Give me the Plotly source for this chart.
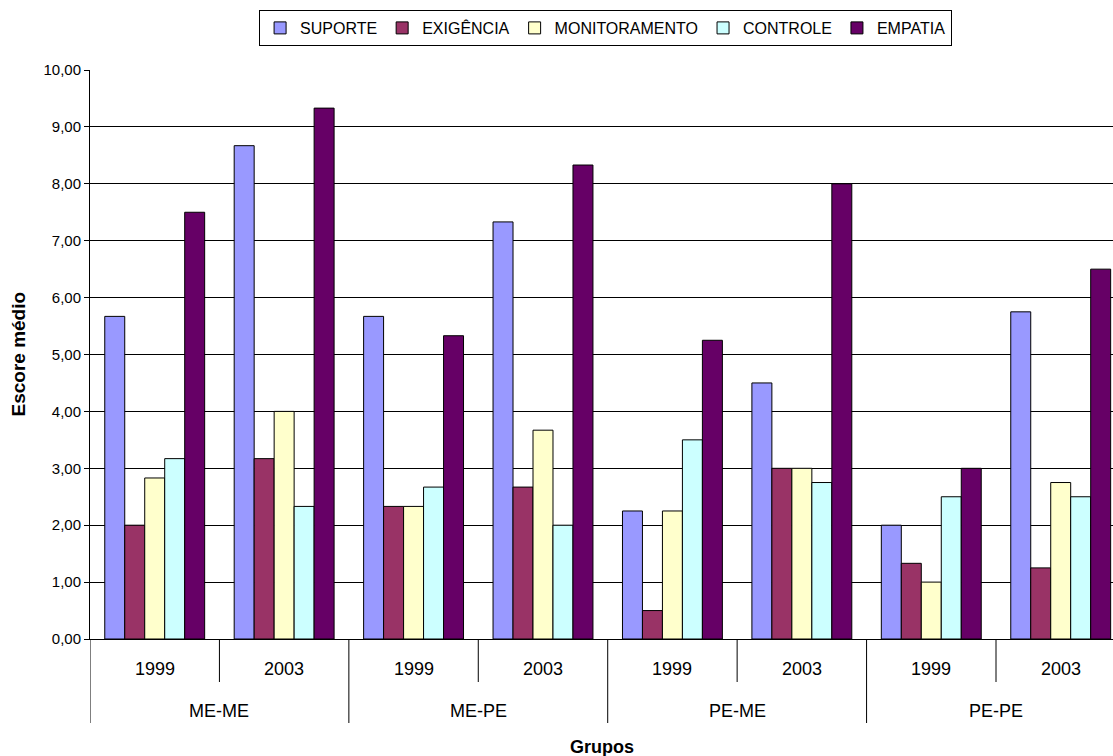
import plotly.graph_objects as go

grupos = ["ME-ME", "ME-PE", "PE-ME", "PE-PE"]
anos = ["1999", "2003"]

suporte = [5.67, 8.67, 5.67, 7.33, 2.25, 4.50, 2.00, 5.75]
exigencia = [2.00, 3.17, 2.33, 2.67, 0.50, 3.00, 1.33, 1.25]
monitoramento = [2.83, 4.00, 2.33, 3.67, 2.25, 3.00, 1.00, 2.75]
controle = [3.17, 2.33, 2.67, 2.00, 3.50, 2.75, 2.50, 2.50]
empatia = [7.50, 9.33, 5.33, 8.33, 5.25, 8.00, 3.00, 6.50]

series = [
    ("SUPORTE", suporte, "#9999FF"),
    ("EXIGÊNCIA", exigencia, "#993366"),
    ("MONITORAMENTO", monitoramento, "#FFFFCC"),
    ("CONTROLE", controle, "#CCFFFF"),
    ("EMPATIA", empatia, "#660066"),
]

# one category per grupo/ano pair
x_cats = [g + " " + a for g in grupos for a in anos]

FONT = "Liberation Sans, Arial, sans-serif"
plot_h = 569  # plot area height in px

fig = go.Figure()
for nome, vals, cor in series:
    fig.add_trace(go.Bar(
        name=nome, x=x_cats, y=vals,
        marker=dict(color=cor, line=dict(color="black", width=1)),
    ))

fig.update_layout(
    width=1113, height=756,
    margin=dict(l=90, r=0, t=70, b=117),
    plot_bgcolor="white", paper_bgcolor="white",
    barmode="group", bargap=0.228, bargroupgap=0,
    separators=",.",
    font=dict(family=FONT, color="black", size=15),
    showlegend=True,
    legend=dict(
        orientation="h", x=0.504, xanchor="center", y=1 + 60 / plot_h, yanchor="top",
        bordercolor="black", borderwidth=1, bgcolor="white",
        font=dict(size=16, family=FONT), itemwidth=30,
    ),
)

fig.update_yaxes(
    range=[0, 10], dtick=1, tickformat=".2f",
    showgrid=True, gridcolor="black", gridwidth=1,
    showline=True, linecolor="black", linewidth=1,
    ticks="outside", ticklen=5, tickcolor="black",
    tickfont=dict(size=15), zeroline=False,
)
# last category is cut by the right edge, like the original
fig.update_xaxes(
    type="category", range=[-0.5, 7.404],
    showticklabels=False, showgrid=False,
    showline=True, linecolor="black", linewidth=1, ticks="",
)

# category axis decorations (Excel style two-level labels)
inner_len = 43 / plot_h
outer_len = 84 / plot_h
for i, a in enumerate(x_cats):
    fig.add_annotation(x=i, y=-30 / plot_h, xref="x", yref="paper", yanchor="middle",
                       text=anos[i % 2], showarrow=False, font=dict(size=18))
for k, g in enumerate(grupos):
    fig.add_annotation(x=2 * k + 0.5, y=-72 / plot_h, xref="x", yref="paper", yanchor="middle",
                       text=g, showarrow=False, font=dict(size=18))
    fig.add_shape(type="line", xref="x", yref="paper",
                  x0=2 * k + 0.5, x1=2 * k + 0.5, y0=0, y1=-inner_len,
                  line=dict(color="black", width=1))
    fig.add_shape(type="line", xref="x", yref="paper",
                  x0=2 * k - 0.5, x1=2 * k - 0.5, y0=0, y1=-outer_len,
                  line=dict(color="black", width=1))

fig.add_annotation(x=0.5, y=-108 / plot_h, xref="paper", yref="paper", yanchor="middle",
                   text="<b>Grupos</b>", showarrow=False, font=dict(size=18))
fig.add_annotation(x=(18 - 90) / 1023, y=0.5, xref="paper", yref="paper",
                   xanchor="center", yanchor="middle",
                   text="<b>Escore médio</b>", showarrow=False, textangle=-90,
                   font=dict(size=19))

# drop the default 8px body margin so the figure fills the window
fig.write_html("out.html", config={"displayModeBar": False},
               post_script="document.body.style.margin='0';document.body.style.overflow='hidden';")
